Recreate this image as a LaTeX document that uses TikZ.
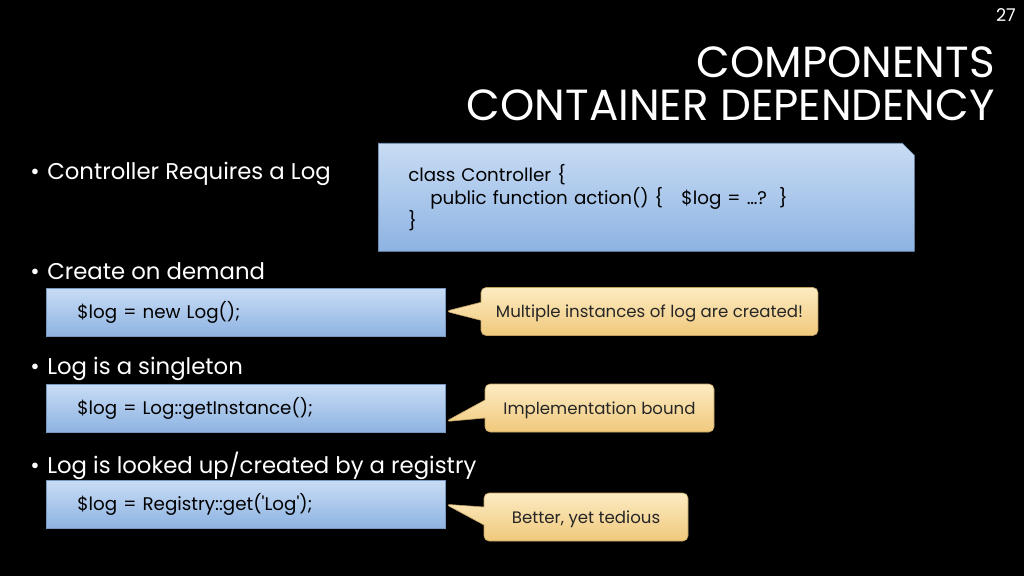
\documentclass[tikz,border=0pt]{standalone}
\usepackage{fontspec}
\setmainfont{Poppins}
\usetikzlibrary{positioning,shapes.misc,shapes.callouts}

\newcommand{\pxu}{0.025cm}
\newcommand{\bul}{\makebox[0.425cm][l]{\textbullet}}
\definecolor{boxtop}{HTML}{C8DCF4}
\definecolor{boxbot}{HTML}{8DB3E2}
\definecolor{notetop}{HTML}{FCEBC2}
\definecolor{notebot}{HTML}{F0C97C}

\tikzset{
  point/.style={anchor=west, text=white, inner sep=0pt, font=\fontsize{16.2}{19}\selectfont},
  codebox/.style={anchor=north west, draw=boxbot!85!black, line width=0.4pt,
    top color=boxtop, bottom color=boxbot, text width=337*\pxu, inner xsep=31*\pxu,
    inner ysep=0pt, minimum height=48*\pxu, align=left, font=\fontsize{13}{16.4}\selectfont},
  notebox/.style={rectangle callout, rounded corners=5*\pxu, draw=notebot!80!black,
    line width=0.4pt, top color=notetop, bottom color=notebot, inner sep=0pt,
    minimum height=48*\pxu, callout pointer width=18*\pxu, text=black!85,
    text depth=0pt, font=\fontsize{11.8}{14}\selectfont}
}

\begin{document}
\begin{tikzpicture}[x=0.025cm, y=-0.025cm]
  \fill[black] (0,0) rectangle (1024,576);
  % page number and title
  \node[anchor=east, text=white, inner sep=0pt, font=\fontsize{12.5}{14}\selectfont] (pageno) at (1016,15) {27};
  \node[anchor=east, text=white, inner sep=0pt, font=\fontsize{31}{36}\selectfont] (title1) at (995,62) {COMPONENTS};
  \node[anchor=east, text=white, inner sep=0pt, font=\fontsize{31}{36}\selectfont] (title2) at (995,105) {CONTAINER DEPENDENCY};

  % bullet points
  \node[point] (req) at (30,174) {\bul Controller Requires a Log};
  \node[point] (demand) at (30,271) {\bul Create on demand};
  \node[point] (singleton) at (30,369) {\bul Log is a singleton};
  \node[point] (lookup) at (30,466) {\bul Log is looked up/created by a registry};

  % the controller class
  \node[codebox, chamfered rectangle, chamfered rectangle corners=north east,
    chamfered rectangle xsep=6*\pxu, chamfered rectangle ysep=6*\pxu,
    text width=476*\pxu, inner xsep=24*\pxu, minimum height=108*\pxu] (ctrl) at (378,143)
    {class Controller \{\\ \hspace*{0.55cm}public function action() \{\ \ \ \$log = …?\ \ \}\\ \}};

  % ways to get the log
  \node[codebox] (newlog) at (46,288) {\$log = new Log();};
  \node[codebox] (single) at (46,384) {\$log = Log::getInstance();};
  \node[codebox] (registry) at (46,480) {\$log = Registry::get(\textquotesingle Log\textquotesingle);};

  % remarks
  \node[notebox, minimum width=337*\pxu, callout absolute pointer={([yshift=1*\pxu]newlog.east)}] (many) at (649.5,311.5) {Multiple instances of log are created!};
  \node[notebox, minimum width=229*\pxu, callout absolute pointer={([yshift=11*\pxu]single.south east)}] (bound) at (599.5,408) {Implementation bound};
  \node[notebox, minimum width=204*\pxu, callout absolute pointer={(registry.east)}] (tedious) at (586,517) {Better, yet tedious};
\end{tikzpicture}
\end{document}
